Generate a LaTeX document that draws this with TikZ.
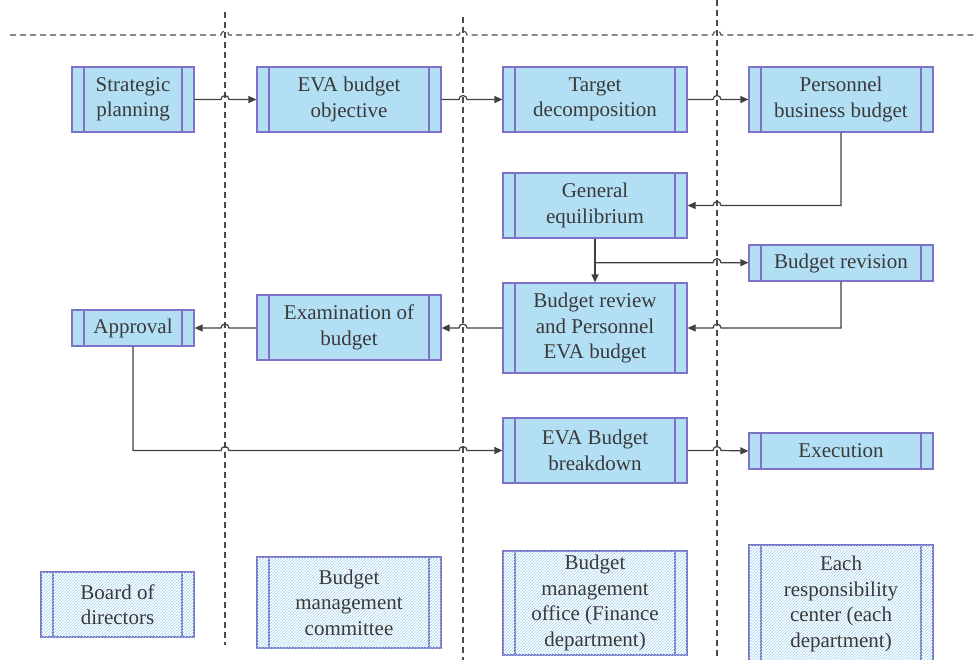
\documentclass[tikz,border=0pt]{standalone}
\usepackage{fontspec}
\setmainfont{Liberation Serif}
\newfontfamily\boxfont{Liberation Serif}
\usetikzlibrary{arrows.meta,calc,patterns}

\definecolor{boxfill}{HTML}{B3DFF5}
\definecolor{boxedge}{HTML}{7D72C8}
\definecolor{hatch}{HTML}{9FD3F0}
\definecolor{ink}{HTML}{3A3A3A}
\definecolor{wire}{HTML}{404040}
\definecolor{lane}{HTML}{4A4A4A}

\tikzset{
  proc/.style={draw=boxedge, line width=1.2pt, fill=boxfill, text=ink,
    align=center, inner sep=0pt, font=\boxfont\fontsize{21}{25.5}\selectfont,
    minimum width=184pt, minimum height=65pt,
    path picture={
      \draw[boxedge, line width=1.2pt]
        ([xshift=12pt]path picture bounding box.north west) --
        ([xshift=12pt]path picture bounding box.south west)
        ([xshift=-12pt]path picture bounding box.north east) --
        ([xshift=-12pt]path picture bounding box.south east);}},
  role/.style={proc, fill=white, postaction={pattern=north east lines, pattern color=hatch}},
  conn/.style={draw=wire, line width=1.2pt, -{Triangle[length=8pt,width=7pt]}},
  swim/.style={draw=lane, line width=1.1pt, dash pattern=on 6pt off 4pt},
  hop/.style={insert path={arc[start angle=180, end angle=0, radius=4pt]}},
  hopl/.style={insert path={arc[start angle=0, end angle=180, radius=4pt]}}
}

\begin{document}
\begin{tikzpicture}[x=1pt, y=-1pt]
\useasboundingbox (0,0) rectangle (976,660);

% lane positions
\coordinate (L1) at (225,0);
\coordinate (L2) at (463,0);
\coordinate (L3) at (717,0);

% swim-lane separators
\draw[swim] (225,12) -- (225,645);
\draw[swim] (463,17) -- (463,662);
\draw[swim] (717,0) -- (717,662);
\draw[swim] (10,35) -- (221,35) [hop] -- (459,35) [hop] -- (713,35) [hop] -- (976,35);

% process steps
\node[proc, minimum width=122pt] (sp) at (133,99.5) {Strategic\\planning};
\node[proc] (eo) at (349,99.5) {EVA budget\\objective};
\node[proc] (td) at (595,99.5) {Target\\decomposition};
\node[proc] (pb) at (841,99.5) {Personnel\\business budget};
\node[proc] (ge) at (595,205.5) {General\\equilibrium};
\node[proc, minimum height=36pt] (br) at (841,263) {Budget revision};
\node[proc, minimum height=90pt] (rv) at (595,328) {Budget review\\and Personnel\\EVA budget};
\node[proc] (ex) at (349,327.5) {Examination of\\budget};
\node[proc, minimum width=122pt, minimum height=36pt] (ap) at (133,328) {Approval};
\node[proc] (bd) at (595,450.5) {EVA Budget\\breakdown};
\node[proc, minimum height=36pt] (ec) at (841,451) {Execution};

% lane owners
\node[role, minimum width=153pt] (bod) at (117.5,604.5) {Board of\\directors};
\node[role, minimum height=91pt] (bmc) at (349,602.5) {Budget\\management\\committee};
\node[role, minimum height=104pt] (bmo) at (595,603) {Budget\\management\\office (Finance\\department)};
\node[role, minimum height=118pt] (rc) at (841,604) {Each\\responsibility\\center (each\\department)};

% flow
\draw[conn] (sp.east) -- ($(L1 |- sp.east)+(-4,0)$) [hop] -- (eo.west);
\draw[conn] (eo.east) -- ($(L2 |- eo.east)+(-4,0)$) [hop] -- (td.west);
\draw[conn] (td.east) -- ($(L3 |- td.east)+(-4,0)$) [hop] -- (pb.west);
\draw[conn] (pb.south) |- ($(L3 |- ge.east)+(4,0)$) [hopl] -- (ge.east);
\draw[conn] (ge.south) -- (rv.north);
\coordinate (fork) at ($(ge.south)!0.55!(rv.north)$);
\draw[conn] (fork) -- ($(L3 |- fork)+(-4,0)$) [hop] -- (fork -| br.west);
\draw[conn] (br.south) |- ($(L3 |- rv.east)+(4,0)$) [hopl] -- (rv.east);
\draw[conn] (rv.west) -- ($(L2 |- rv.west)+(4,0)$) [hopl] -- (ex.east |- rv.west);
\draw[conn] (ex.west |- ap.east) -- ($(L1 |- ap.east)+(4,0)$) [hopl] -- (ap.east);
\draw[conn] (ap.south) |- ($(L1 |- bd.west)+(-4,0)$) [hop] -- ($(L2 |- bd.west)+(-4,0)$) [hop] -- (bd.west);
\draw[conn] (bd.east) -- ($(L3 |- bd.east)+(-4,0)$) [hop] -- (ec.west);
\end{tikzpicture}
\end{document}
